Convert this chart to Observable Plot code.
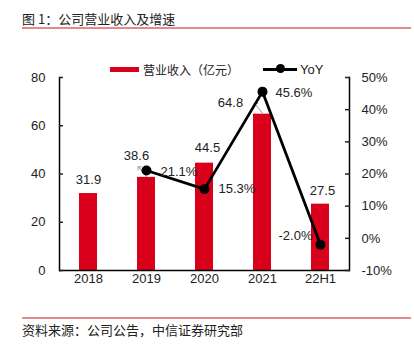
<!DOCTYPE html>
<html>
<head>
<meta charset="utf-8">
<script src="https://cdn.jsdelivr.net/npm/d3@7"></script>
<script src="https://cdn.jsdelivr.net/npm/@observablehq/plot@0.6"></script>
<style>
  body { margin: 0; background: #fff; }
  #wrap { position: relative; width: 414px; height: 353px; overflow: hidden; font-family: "Liberation Sans", Arial, sans-serif; }
  #chart { position: absolute; left: 0; top: 0; }
  .title { position: absolute; left: 22px; top: 9px; font: 13px "Noto Sans CJK SC", sans-serif; color: #222; line-height: 20px; white-space: nowrap; }
  .rule { position: absolute; left: 22px; width: 389px; height: 1.5px; background: #e58a8a; }
  .foot { position: absolute; left: 22px; top: 321px; font: 13px "Noto Sans CJK SC", sans-serif; color: #222; line-height: 18px; white-space: nowrap; }
  .leg { position: absolute; top: 60px; height: 18px; display: flex; align-items: center; }
  .sw-bar { width: 29px; height: 5px; background: #d9001b; margin-right: 4px; }
  .sw-line { position: relative; width: 34px; height: 3px; background: #000; margin-right: 3px; }
  .sw-line::after { content: ""; position: absolute; left: 12.5px; top: -3.5px; width: 9px; height: 9px; border-radius: 50%; background: #000; }
  .leg span { color: #222; white-space: nowrap; }
</style>
</head>
<body>
<div id="wrap">
  <div class="title">图 1：公司营业收入及增速</div>
  <div class="rule" style="top:27px"></div>
  <div id="chart"></div>
  <div class="leg" style="left:110px"><div class="sw-bar"></div><span style="font:12px 'Noto Sans CJK SC',sans-serif">营业收入（亿元）</span></div>
  <div class="leg" style="left:263px"><div class="sw-line"></div><span style="font:13px 'Liberation Sans',Arial,sans-serif">YoY</span></div>
  <div class="rule" style="top:317px"></div>
  <div class="foot">资料来源：公司公告，中信证券研究部</div>
</div>
<script>
const categories = ["2018", "2019", "2020", "2021", "22H1"];
const revenue = [31.9, 38.6, 44.5, 64.8, 27.5];
const yoy = [null, 21.1, 15.3, 45.6, -2.0];
const revTicks = [0, 20, 40, 60, 80];
const yoyTicks = [-10, 0, 10, 20, 30, 40, 50];

const revData = categories.map((c, i) => ({cat: c, rev: revenue[i], i}));
const yoyData = categories.map((c, i) => ({cat: c, yoy: yoy[i], i})).filter(d => d.yoy != null);

// map YoY (%) onto the revenue scale: -10% -> 0, 50% -> 80
const yy = v => (v + 10) * 80 / 60;
const yyInv = d => Math.round(d * 60 / 80 - 10);

// label offsets (layout only)
const revOff = [[0, -14], [-10, -22], [3, -15], [-32, -11], [2, -13]];
const yoyOff = {1: [14, 1, "start"], 2: [14, 0, "start"], 3: [13, 1, "start"], 4: [-8, -9, "end"]};

const red = "#d9001b";
const revLabels = revData.map((d, k) => Plot.text([d], {
  x: "cat", y: "rev", text: d => d.rev.toFixed(1),
  dx: revOff[k][0], dy: revOff[k][1], fill: "#222", fontSize: 13
}));
const yoyLabels = yoyData.map(d => Plot.text([d], {
  x: "cat", y: d => yy(d.yoy), text: d => d.yoy.toFixed(1) + "%",
  dx: yoyOff[d.i][0], dy: yoyOff[d.i][1], textAnchor: yoyOff[d.i][2], fill: "#222", fontSize: 13
}));
const leaders = revData.filter(d => d.i === 1 || d.i === 3);

const chart = Plot.plot({
  width: 414,
  height: 353,
  marginLeft: 59,
  marginRight: 65,
  marginTop: 77,
  marginBottom: 83,
  style: {fontFamily: "'Liberation Sans', Arial, sans-serif", fontSize: "13px", color: "#222", background: "transparent"},
  x: {domain: categories, paddingInner: 0.69, paddingOuter: 0.345, label: null},
  y: {domain: [0, 80], label: null},
  marks: [
    Plot.barY(revData, {x: "cat", y: "rev", fill: red}),
    Plot.vector(leaders, {x: "cat", y: "rev", length: 13, rotate: -40, anchor: "start", stroke: "#aaa", strokeWidth: 1, dy: -1}),
    Plot.frame({anchor: "left", stroke: "#000", strokeWidth: 1.5}),
    Plot.frame({anchor: "right", stroke: "#000", strokeWidth: 1.5}),
    Plot.ruleY([0], {stroke: "#000", strokeWidth: 1.5}),
    Plot.axisY(revTicks, {anchor: "left", tickSize: -4, tickPadding: 18, label: null, strokeWidth: 1.5}),
    Plot.axisY(yoyTicks.map(yy), {anchor: "right", tickSize: -5, tickPadding: 17, label: null, strokeWidth: 1.5, tickFormat: d => yyInv(d) + "%"}),
    Plot.axisX({tickSize: 0, tickPadding: 3, label: null}),
    Plot.line(yoyData, {x: "cat", y: d => yy(d.yoy), stroke: "#000", strokeWidth: 2.8}),
    Plot.dot(yoyData, {x: "cat", y: d => yy(d.yoy), r: 5, fill: "#000"}),
    ...revLabels,
    ...yoyLabels
  ]
});
document.getElementById("chart").appendChild(chart);
</script>
</body>
</html>
